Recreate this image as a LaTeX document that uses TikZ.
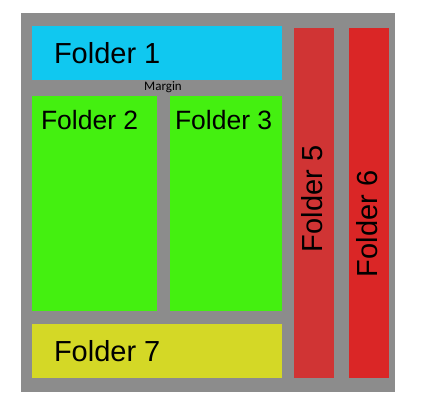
\documentclass[tikz,border=0pt]{standalone}
\usepackage{fontspec}
\setmainfont{Liberation Sans}
\newfontfamily\marginfont{Carlito}
\definecolor{bggray}{HTML}{8C8C8C}
\definecolor{fcyan}{HTML}{10C8F0}
\definecolor{fgreen}{HTML}{44F010}
\definecolor{fyellow}{HTML}{D4D826}
\definecolor{fredA}{HTML}{D03434}
\definecolor{fredB}{HTML}{DA2626}
\begin{document}
\begin{tikzpicture}[x=1pt,y=-1pt,
  box/.style={draw=none,inner sep=0pt,outer sep=0pt,rectangle},
  lbl/.style={inner sep=0pt,outer sep=0pt,anchor=base west,text=black},
  big/.style={font=\fontsize{29}{29}\selectfont},
  mid/.style={font=\fontsize{26.5}{26.5}\selectfont}]
\useasboundingbox (0,0) rectangle (441,406);
\fill[white] (0,0) rectangle (441,406);
\node[box,fill=bggray,minimum width=374pt,minimum height=379pt,anchor=north west] (bg) at (21,13) {};
\node[box,fill=fcyan,minimum width=250pt,minimum height=54pt,anchor=north west] (f1) at (32,26) {};
\node[box,fill=fgreen,minimum width=125pt,minimum height=215pt,anchor=north west] (f2) at (32,96) {};
\node[box,fill=fgreen,minimum width=112pt,minimum height=215pt,anchor=north west] (f3) at (170,96) {};
\node[box,fill=fyellow,minimum width=250pt,minimum height=54pt,anchor=north west] (f7) at (32,324) {};
\node[box,fill=fredA,minimum width=40pt,minimum height=350pt,anchor=north west] (f5) at (294,28) {};
\node[box,fill=fredB,minimum width=40pt,minimum height=350pt,anchor=north west] (f6) at (349,28) {};
\node[lbl,big] (t1) at (54,64) {Folder 1};
\node[lbl,mid] (t2) at (41,130) {Folder 2};
\node[lbl,mid] (t3) at (175,130) {Folder 3};
\node[lbl,big] (t7) at (54,361) {Folder 7};
\node[lbl,big,rotate=90] (t5) at (322,252) {Folder 5};
\node[lbl,big,rotate=90] (t6) at (377,277) {Folder 6};
\node[inner sep=0pt,font=\marginfont\fontsize{13}{13}\selectfont] (m) at (163,87.5) {Margin};
\end{tikzpicture}
\end{document}
